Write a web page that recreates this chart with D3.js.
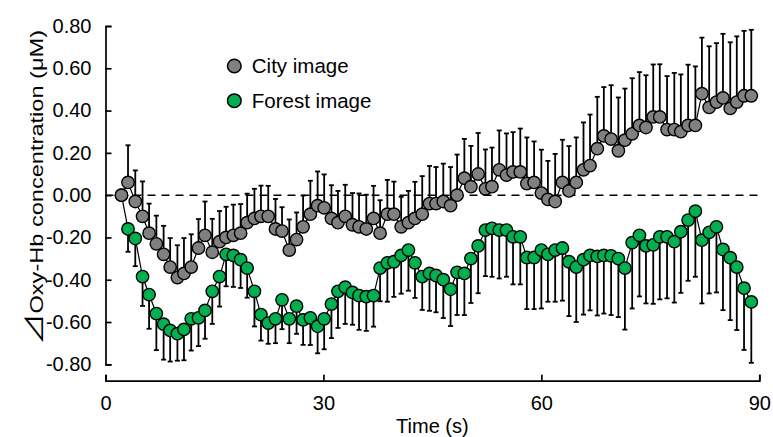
<!DOCTYPE html>
<html>
<head>
<meta charset="utf-8">
<script src="https://cdn.jsdelivr.net/npm/d3@7"></script>
<style>
  body { margin: 0; background: #fff; }
  svg text { font-family: "Liberation Sans", Arial, sans-serif; fill: #000; }
</style>
</head>
<body>
<div id="chart"></div>
<script>
// time of each sample (s)
var timeSec = [2.2, 3.1, 4.1, 5.1, 6.0, 7.0, 8.0, 8.9, 9.9, 10.8, 11.8, 12.8, 13.7, 14.7, 15.7, 16.6, 17.6, 18.6, 19.5, 20.5,
    21.4, 22.4, 23.4, 24.3, 25.3, 26.3, 27.2, 28.2, 29.2, 30.1, 31.1, 32.0, 33.0, 34.0, 34.9, 35.9, 36.9, 37.8, 38.8, 39.7,
    40.7, 41.7, 42.6, 43.6, 44.6, 45.5, 46.5, 47.5, 48.4, 49.4, 50.3, 51.3, 52.3, 53.2, 54.2, 55.2, 56.1, 57.1, 58.0, 59.0,
    60.0, 60.9, 61.9, 62.9, 63.8, 64.8, 65.8, 66.7, 67.7, 68.6, 69.6, 70.6, 71.5, 72.5, 73.5, 74.4, 75.4, 76.3, 77.3, 78.3,
    79.2, 80.2, 81.2, 82.1, 83.1, 84.1, 85.0, 86.0, 86.9, 87.9, 88.9];

var cityMean = [0.00, 0.06, -0.03, -0.10, -0.18, -0.23, -0.28, -0.34, -0.39, -0.37, -0.34, -0.25, -0.19, -0.27, -0.22, -0.20, -0.19, -0.18, -0.13, -0.11,
    -0.10, -0.10, -0.16, -0.17, -0.26, -0.21, -0.15, -0.09, -0.05, -0.06, -0.11, -0.13, -0.10, -0.14, -0.15, -0.16, -0.11, -0.18, -0.09, -0.09,
    -0.15, -0.13, -0.11, -0.09, -0.04, -0.04, -0.03, -0.05, 0.00, 0.08, 0.04, 0.10, 0.03, 0.04, 0.12, 0.095, 0.11, 0.11, 0.055, 0.06,
    0.01, -0.02, -0.03, 0.06, 0.02, 0.06, 0.12, 0.14, 0.22, 0.28, 0.265, 0.21, 0.26, 0.29, 0.33, 0.32, 0.37, 0.37, 0.31, 0.31,
    0.30, 0.33, 0.33, 0.48, 0.415, 0.44, 0.46, 0.41, 0.44, 0.47, 0.47];
var cityErr = [0.00, 0.176, 0.147, 0.165, 0.14, 0.133, 0.135, 0.137, 0.153, 0.167, 0.155, 0.137, 0.16, 0.158, 0.145, 0.145, 0.145, 0.138, 0.137, 0.14,
    0.145, 0.144, 0.142, 0.113, 0.145, 0.128, 0.148, 0.158, 0.162, 0.158, 0.157, 0.15, 0.149, 0.15, 0.158, 0.162, 0.154, 0.156, 0.162, 0.154,
    0.142, 0.15, 0.173, 0.18, 0.178, 0.173, 0.179, 0.183, 0.192, 0.186, 0.193, 0.194, 0.186, 0.185, 0.186, 0.197, 0.188, 0.205, 0.218, 0.194,
    0.205, 0.182, 0.225, 0.202, 0.212, 0.213, 0.224, 0.241, 0.245, 0.231, 0.255, 0.252, 0.244, 0.263, 0.252, 0.247, 0.248, 0.249, 0.253, 0.268,
    0.271, 0.287, 0.279, 0.265, 0.289, 0.279, 0.303, 0.313, 0.311, 0.307, 0.312];

var forestMean = [0.00, -0.16, -0.205, -0.385, -0.47, -0.56, -0.61, -0.64, -0.655, -0.635, -0.585, -0.58, -0.545, -0.455, -0.385, -0.28, -0.285, -0.305, -0.345, -0.455,
    -0.565, -0.605, -0.585, -0.495, -0.585, -0.525, -0.59, -0.58, -0.62, -0.585, -0.515, -0.455, -0.435, -0.46, -0.475, -0.48, -0.475, -0.345, -0.32, -0.315,
    -0.285, -0.26, -0.32, -0.385, -0.37, -0.38, -0.40, -0.445, -0.365, -0.37, -0.30, -0.24, -0.165, -0.157, -0.165, -0.165, -0.197, -0.197, -0.295, -0.295,
    -0.26, -0.28, -0.26, -0.25, -0.315, -0.34, -0.305, -0.285, -0.29, -0.285, -0.287, -0.30, -0.345, -0.225, -0.19, -0.24, -0.235, -0.197, -0.197, -0.22,
    -0.173, -0.118, -0.076, -0.213, -0.176, -0.15, -0.257, -0.296, -0.34, -0.44, -0.505];
var forestErr = [0.00, 0.108, 0.131, 0.139, 0.162, 0.173, 0.168, 0.147, 0.128, 0.146, 0.15, 0.134, 0.134, 0.154, 0.142, 0.151, 0.149, 0.134, 0.14, 0.166,
    0.123, 0.098, 0.115, 0.139, 0.115, 0.131, 0.118, 0.129, 0.128, 0.144, 0.161, 0.173, 0.174, 0.153, 0.162, 0.162, 0.147, 0.157, 0.184, 0.166,
    0.181, 0.192, 0.166, 0.158, 0.177, 0.174, 0.181, 0.174, 0.202, 0.197, 0.21, 0.224, 0.218, 0.229, 0.229, 0.221, 0.225, 0.225, 0.244, 0.244,
    0.276, 0.224, 0.244, 0.249, 0.257, 0.26, 0.26, 0.26, 0.279, 0.275, 0.28, 0.277, 0.291, 0.311, 0.289, 0.272, 0.279, 0.296, 0.291, 0.288,
    0.289, 0.287, 0.31, 0.299, 0.289, 0.31, 0.287, 0.295, 0.298, 0.292, 0.288];

var xTicks = [0, 30, 60, 90];
var yTicks = [-0.8, -0.6, -0.4, -0.2, 0, 0.2, 0.4, 0.6, 0.8];
var seriesNames = ['City image', 'Forest image'];

var cityColor = '#808080';
var forestColor = '#00b050';
var width = 773;
var height = 437;

var xScale = d3.scaleLinear().domain([0, 90]).range([105.5, 759.3]);
var yScale = d3.scaleLinear().domain([-0.8, 0.8]).range([364.3, 26]);

document.addEventListener('DOMContentLoaded', function () {
    var svg = d3.select('#chart')
        .append('svg')
        .attr('width', width)
        .attr('height', height);

    var city = timeSec.map(function (t, i) {
        return { t: t, v: cityMean[i], end: cityMean[i] + cityErr[i] };
    });
    var forest = timeSec.map(function (t, i) {
        return { t: t, v: forestMean[i], end: forestMean[i] - forestErr[i] };
    });

    drawAxes(svg);

    // dashed zero line
    svg.append('line')
        .attr('x1', xScale(0))
        .attr('x2', xScale(90))
        .attr('y1', yScale(0))
        .attr('y2', yScale(0))
        .attr('stroke', '#000')
        .attr('stroke-width', 1.5)
        .attr('stroke-dasharray', '8,6');

    drawErrorBars(svg, forest);
    drawErrorBars(svg, city);
    drawLine(svg, forest);
    drawLine(svg, city);
    drawPoints(svg, forest, forestColor);
    drawPoints(svg, city, cityColor);

    drawLegend(svg);
});

function drawAxes(svg) {
    var yAxis = d3.axisLeft(yScale)
        .tickValues(yTicks)
        .tickSize(-6)
        .tickPadding(14)
        .tickFormat(d3.format('.2f'));
    var gy = svg.append('g')
        .attr('transform', 'translate(' + xScale(0) + ',0)')
        .call(yAxis);

    var xAxis = d3.axisBottom(xScale)
        .tickValues(xTicks)
        .tickSize(-6)
        .tickPadding(15)
        .tickFormat(d3.format('d'));
    var gx = svg.append('g')
        .attr('transform', 'translate(0,380.7)')
        .call(xAxis);

    [gx, gy].forEach(function (g) {
        g.selectAll('path, line').attr('stroke', '#000').attr('stroke-width', 1.7);
        g.selectAll('text')
            .style('font-size', '20px')
            .attr('fill', '#000');
    });
    gy.selectAll('text').text(function (d) { return d3.format('.2f')(d).replace('−', '-'); });

    svg.append('text')
        .attr('x', (xScale(0) + xScale(90)) / 2)
        .attr('y', 433)
        .attr('text-anchor', 'middle')
        .style('font-size', '20px')
        .text('Time (s)');

    var title = svg.append('text')
        .attr('transform', 'translate(42.5,187.5) rotate(-90)')
        .attr('text-anchor', 'middle')
        .attr('textLength', 315)
        .attr('lengthAdjust', 'spacingAndGlyphs')
        .style('font-size', '18px');
    title.append('tspan')
        .style('font-family', '"Noto Sans CJK JP", "DejaVu Sans", sans-serif')
        .style('font-size', '24px')
        .text('\u22BF');
    title.append('tspan')
        .text('Oxy-Hb concentration (\u03BCM)');
}

function drawErrorBars(svg, data) {
    var g = svg.append('g')
        .attr('stroke', '#000')
        .attr('stroke-width', 1.8);
    g.selectAll('line.bar')
        .data(data.filter(function (d) { return d.end !== d.v; }))
        .enter()
        .append('line')
        .attr('class', 'bar')
        .attr('x1', function (d) { return xScale(d.t); })
        .attr('x2', function (d) { return xScale(d.t); })
        .attr('y1', function (d) { return yScale(d.v); })
        .attr('y2', function (d) { return yScale(d.end); });
    g.selectAll('line.cap')
        .data(data.filter(function (d) { return d.end !== d.v; }))
        .enter()
        .append('line')
        .attr('class', 'cap')
        .attr('x1', function (d) { return xScale(d.t) - 2.5; })
        .attr('x2', function (d) { return xScale(d.t) + 2.5; })
        .attr('y1', function (d) { return yScale(d.end); })
        .attr('y2', function (d) { return yScale(d.end); });
}

function drawLine(svg, data) {
    var line = d3.line()
        .x(function (d) { return xScale(d.t); })
        .y(function (d) { return yScale(d.v); });
    svg.append('path')
        .datum(data)
        .attr('d', line)
        .attr('fill', 'none')
        .attr('stroke', '#000')
        .attr('stroke-width', 1.2);
}

function drawPoints(svg, data, color) {
    svg.append('g')
        .selectAll('circle')
        .data(data)
        .enter()
        .append('circle')
        .attr('cx', function (d) { return xScale(d.t); })
        .attr('cy', function (d) { return yScale(d.v); })
        .attr('r', 6.2)
        .attr('fill', color)
        .attr('stroke', '#000')
        .attr('stroke-width', 1.4);
}

function drawLegend(svg) {
    var legend = svg.append('g')
        .attr('transform', 'translate(234.3,66)');
    var colors = [cityColor, forestColor];
    seriesNames.forEach(function (name, i) {
        legend.append('circle')
            .attr('cx', 0)
            .attr('cy', i * 34.7)
            .attr('r', 6.8)
            .attr('fill', colors[i])
            .attr('stroke', '#000')
            .attr('stroke-width', 1.5);
        legend.append('text')
            .attr('x', 17.5)
            .attr('y', i * 34.7 + 7.3)
            .style('font-size', '20.5px')
            .text(name);
    });
}
</script>
</body>
</html>
